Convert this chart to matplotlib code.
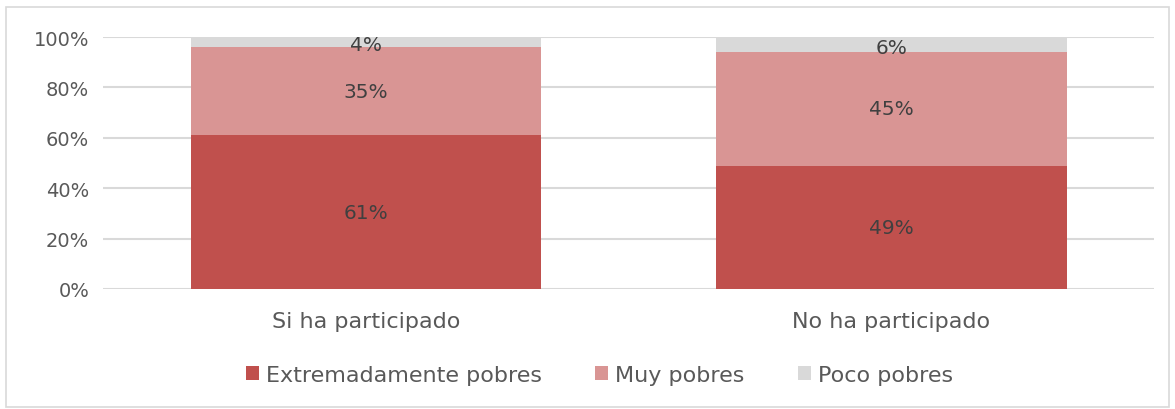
import matplotlib
matplotlib.use("Agg")
import matplotlib.pyplot as plt
from matplotlib.patches import Rectangle, Patch
from matplotlib.ticker import PercentFormatter

plt.rcParams['font.family'] = ['DejaVu Sans']

categories = ["Si ha participado", "No ha participado"]
series_names = ["Extremadamente pobres", "Muy pobres", "Poco pobres"]
extremadamente = [0.61, 0.49]
muy = [0.35, 0.45]
poco = [0.04, 0.06]
colors = ["#c0504d", "#d99594", "#d9d9d9"]

fig = plt.figure(figsize=(11.75, 4.1), dpi=100)
ax = fig.add_axes([0.0877, 0.2927, 0.8945, 0.6146])

# light border round the chart area
fig.patches.append(Rectangle((0.005, 0.005), 0.99, 0.975, transform=fig.transFigure,
                             fill=False, edgecolor="#d9d9d9", linewidth=1.2))

x = range(len(categories))
bottom = [0.0, 0.0]
for vals, col in zip([extremadamente, muy, poco], colors):
    bars = ax.bar(x, vals, width=0.667, bottom=bottom, color=col, zorder=2)
    for i, b in enumerate(bars):
        yc = bottom[i] + vals[i] / 2
        if vals[i] < 0.1:
            yc = bottom[i] + vals[i] / 2 - 0.01
        ax.text(b.get_x() + b.get_width() / 2, yc, f"{vals[i] * 100:.0f}%",
                ha="center", va="center", fontsize=14.5, color="#404040", zorder=3)
    bottom = [bottom[i] + vals[i] for i in range(len(vals))]

ax.set_xlim(-0.5, 1.5)
ax.set_ylim(0, 1)
ax.set_yticks([0, 0.2, 0.4, 0.6, 0.8, 1.0])
ax.yaxis.set_major_formatter(PercentFormatter(1.0, decimals=0))
ax.set_xticks(list(x))
ax.set_xticklabels(categories, fontsize=16)
ax.tick_params(axis="both", length=0, labelcolor="#595959")
ax.tick_params(axis="y", labelsize=14, pad=10)
ax.tick_params(axis="x", pad=16)
ax.grid(axis="y", color="#d9d9d9", linewidth=1.5, zorder=0)
for s in ax.spines.values():
    s.set_visible(False)

handles = [Patch(facecolor=c, edgecolor="none") for c in colors]
fig.legend(handles, series_names, loc="center", bbox_to_anchor=(0.51, 0.083), ncol=3,
           frameon=False, fontsize=16, labelcolor="#595959", handlelength=0.6,
           handleheight=0.6, handletextpad=0.3, columnspacing=2.4)

fig.savefig("out.png", dpi=100)
